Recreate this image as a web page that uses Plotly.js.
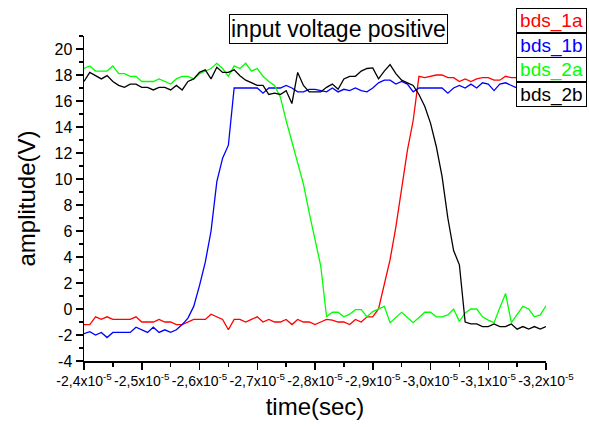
<!DOCTYPE html>
<html>
<head>
<meta charset="utf-8">
<script src="https://cdn.plot.ly/plotly-3.0.1.min.js"></script>
<style>html,body{margin:0;padding:0;background:#fff;}#chart{width:589px;height:427px;}</style>
</head>
<body>
<div id="chart"></div>
<script>
// sampling grid (seconds)
const tStart = -2.4e-5;
const tStep = -1e-7;

const seriesNames = ["bds_1a", "bds_1b", "bds_2a", "bds_2b"];
const seriesColors = ["#ff0000", "#0000ff", "#00ff00", "#000000"];

const bds_1a = [-1.2,-1.2,-0.6,-0.8,-0.6,-0.8,-0.8,-0.8,-0.8,-0.6,
  -1.0,-1.0,-1.0,-0.8,-1.0,-1.0,-1.2,-1.2,-1.0,-0.8,
  -0.8,-0.8,-0.4,-0.6,-0.8,-1.6,-0.8,-0.8,-1.0,-0.8,
  -0.6,-1.0,-0.8,-1.0,-1.0,-0.8,-1.2,-0.8,-1.0,-1.0,
  -1.2,-1.0,-0.8,-0.85,-1.0,-1.0,-1.2,-0.8,-1.0,-0.6,
  -0.6,0.0,2.0,3.8,6.3,9.2,12.2,14.5,17.9,17.8,
  17.9,18.0,18.0,17.8,17.8,17.5,17.7,17.5,17.7,17.8,
  17.8,17.6,17.6,17.9,17.8,17.8,17.8,17.9,18.0,17.9,18.0];

const bds_1b = [-1.9,-1.75,-2.0,-1.8,-2.2,-1.8,-1.8,-1.8,-1.8,-1.4,
  -1.6,-1.8,-1.4,-1.8,-1.6,-1.8,-1.6,-1.2,-0.7,0.2,
  1.8,3.6,6.0,9.8,11.6,12.6,17.0,17.0,17.0,17.0,
  17.0,16.6,17.0,17.0,17.0,17.2,17.0,16.7,16.7,16.9,
  16.9,16.8,16.7,17.0,16.7,16.9,16.8,17.0,16.8,16.7,
  17.0,17.4,17.6,17.6,17.3,17.5,17.3,16.7,17.0,17.0,
  17.0,17.0,17.0,16.6,17.0,17.2,17.0,17.3,17.0,17.4,
  17.3,16.8,17.3,17.4,17.2,17.0,17.0,17.2,17.0,17.0,17.0];

const bds_2a = [18.5,18.7,18.3,18.3,18.3,18.7,18.1,18.1,17.9,17.9,
  17.5,17.5,17.5,17.7,17.5,17.3,17.7,17.9,17.9,17.7,
  18.1,18.3,18.5,18.9,18.5,17.9,18.7,18.5,18.9,18.3,
  18.5,17.9,17.5,17.2,16.3,14.5,12.8,11.3,9.6,7.4,
  5.4,3.3,-0.6,-0.25,-0.25,-0.6,-0.4,-0.05,-0.05,-0.6,
  -0.2,0.0,0.2,-1.05,-0.65,-0.25,-0.65,-1.05,-0.65,-0.25,
  -0.25,-0.6,-0.6,-0.45,0.0,-0.95,-0.3,0.0,0.0,-0.6,
  -0.85,-1.05,0.1,1.2,-1.05,-0.4,0.2,0.0,-0.6,-0.45,0.25];

const bds_2b = [17.5,18.2,17.95,17.7,17.95,17.5,17.2,17.05,17.3,17.3,
  17.05,17.05,16.85,17.05,17.05,16.85,17.2,16.85,17.5,17.7,
  18.2,18.4,17.7,18.6,18.2,18.2,18.4,17.95,17.6,17.4,
  17.2,17.2,16.5,16.6,16.5,16.8,15.8,18.2,17.2,16.7,
  16.7,16.7,17.05,17.3,16.9,17.7,17.9,17.9,18.3,18.5,
  18.55,17.7,18.3,18.8,18.1,17.6,17.4,17.2,16.5,15.6,
  14.3,12.5,10.2,7.0,4.5,3.4,-1.0,-1.15,-1.15,-1.35,
  -1.35,-1.15,-1.35,-1.35,-1.15,-1.55,-1.35,-1.55,-1.35,-1.55,-1.35];

const xTickVals = [-2.4e-5,-2.5e-5,-2.6e-5,-2.7e-5,-2.8e-5,-2.9e-5,-3.0e-5,-3.1e-5,-3.2e-5];
const xTickText = ["-2,4x10<sup>-5</sup>","-2,5x10<sup>-5</sup>","-2,6x10<sup>-5</sup>",
  "-2,7x10<sup>-5</sup>","-2,8x10<sup>-5</sup>","-2,9x10<sup>-5</sup>",
  "-3,0x10<sup>-5</sup>","-3,1x10<sup>-5</sup>","-3,2x10<sup>-5</sup>"];
const yTickVals = [-4,-2,0,2,4,6,8,10,12,14,16,18,20];
const yTickText = ["-4","-2","0","2","4","6","8","10","12","14","16","18","20"];

const chartTitle = "input voltage positive";
const xTitle = "time(sec)";
const yTitle = "amplitude(V)";

const allSeries = [bds_1a, bds_1b, bds_2a, bds_2b];
const FONT = "Liberation Sans, Arial, sans-serif";

const traces = allSeries.map((ys, k) => ({
  type: "scatter",
  mode: "lines",
  x: ys.map((_, i) => tStart + i * tStep),
  y: ys,
  name: seriesNames[k],
  line: {color: seriesColors[k], width: 1.3},
  showlegend: false,
  hoverinfo: "skip"
}));

const legendY = [1.0468, 0.9717, 0.8957, 0.82];
const annotations = seriesNames.map((n, k) => ({
  xref: "paper", yref: "paper",
  x: 1.011, y: legendY[k],
  xanchor: "center", yanchor: "middle",
  text: n, showarrow: false,
  font: {family: FONT, size: 19, color: seriesColors[k]},
  bordercolor: "#000", borderwidth: 1, borderpad: 0,
  bgcolor: "#fff", width: 69, height: 23
}));
annotations.push({
  xref: "paper", yref: "paper",
  x: 0.551, y: 1.02, xanchor: "center", yanchor: "middle",
  text: chartTitle, showarrow: false,
  font: {family: FONT, size: 23, color: "#000"},
  bordercolor: "#000", borderwidth: 1, borderpad: 1, bgcolor: "#fff"
});

const axisCommon = {
  showline: true, linecolor: "#000", linewidth: 1.5,
  ticks: "outside", ticklen: 7, tickwidth: 1.5, tickcolor: "#000",
  showgrid: false, zeroline: false, mirror: false,
  tickfont: {family: FONT, size: 16, color: "#000"}
};

const layout = {
  width: 589, height: 427,
  margin: {l: 84, r: 43, t: 36, b: 66},
  paper_bgcolor: "#fff", plot_bgcolor: "#fff",
  font: {family: FONT, color: "#000"},
  showlegend: false,
  xaxis: Object.assign({}, axisCommon, {
    range: [-2.4e-5, -3.2e-5],
    tickmode: "array", tickvals: xTickVals, ticktext: xTickText,
    tickangle: 0,
    tickfont: {family: FONT, size: 14, color: "#000"},
    minor: {ticks: "outside", ticklen: 4, tickwidth: 1.5, tickcolor: "#000", tick0: -2.4e-5, dtick: 5e-7, showgrid: false},
    title: {text: xTitle, font: {family: FONT, size: 24, color: "#000"}, standoff: 10}
  }),
  yaxis: Object.assign({}, axisCommon, {
    range: [-4, 21],
    tickmode: "array", tickvals: yTickVals, ticktext: yTickText,
    minor: {ticks: "outside", ticklen: 4, tickwidth: 1.5, tickcolor: "#000", tick0: 0, dtick: 1, showgrid: false},
    title: {text: yTitle, font: {family: FONT, size: 24, color: "#000"}, standoff: 12}
  }),
  annotations: annotations
};

Plotly.newPlot("chart", traces, layout, {displayModeBar: false, staticPlot: true});
</script>
</body>
</html>
